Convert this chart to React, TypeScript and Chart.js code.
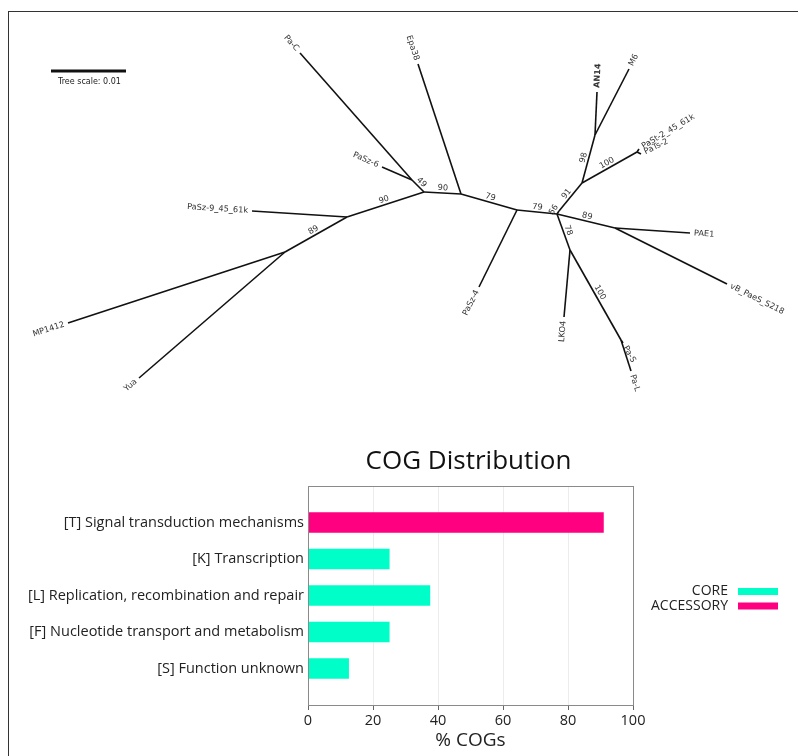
import React, { useEffect, useRef } from 'react';
import { Chart, registerables } from 'chart.js';

Chart.register(...registerables);

// ---------------- Phylogenetic tree (unrooted layout coordinates) ----------------
const treeNodeNames = [
  'n0', 'n1', 'n2', 'n3', 'n4', 'n5', 'n6', 'n6b', 'n7', 'n8', 'n9', 'n10', 'n11', 'n12',
  'Pa-C', 'PaSz-6', 'PaSz-9_45_61k', 'MP1412', 'Yua', 'Epa38', 'PaSz-4', 'AN14', 'M6',
  'PaSt-2_45_61k', 'PaTs-2', 'PAE1', 'vB_PaeS_S218', 'LKO4', 'Pa-S', 'Pa-L',
];
const treeNodeParents = [
  -1, 0, 0, 0, 2, 3, 5, 6, 7, 6, 6, 8, 8, 10,
  1, 1, 2, 4, 4, 3, 5, 11, 11,
  12, 12, 9, 9, 10, 13, 13,
];
const treeNodeX = [
  424, 412, 347, 461, 285, 517, 557, 559, 582, 615, 570, 595, 637, 621,
  300, 382, 252, 68, 139, 418, 479, 597, 629,
  639, 641, 690, 727, 564, 623, 631,
];
const treeNodeY = [
  192, 180, 217, 194, 252, 210, 214, 211, 183, 228, 250, 135, 152, 340,
  53, 167, 211, 323, 378, 64, 287, 92, 69,
  149, 154, 233, 284, 317, 343, 371,
];
const treeNodeSupport: (number | null)[] = [
  null, 49, 90, 90, 89, 79, 79, 56, 91, 89, 78, 98, 100, 100,
  null, null, null, null, null, null, null, null, null,
  null, null, null, null, null, null, null,
];
const treeHighlighted = ['AN14'];
const treeScaleValue = 0.01;
const treeScaleLength = 75; // layout units for 0.01 substitutions/site
const treeScaleOrigin = { x: 51, y: 71 };

// ---------------- COG distribution ----------------
const cogCategories = [
  '',
  '[T] Signal transduction mechanisms',
  '[K] Transcription',
  '[L] Replication, recombination and repair',
  '[F] Nucleotide transport and metabolism',
  '[S] Function unknown',
  '',
];
const coreValues: (number | null)[] = [null, null, 25, 37.5, 25, 12.5, null];
const accessoryValues: (number | null)[] = [null, 90.9, null, null, null, null, null];
const seriesNames = ['CORE', 'ACCESSORY'];
const seriesColors = ['#00ffc8', '#ff0080'];
const xTickStep = 20;
const xMin = 0;
const xMax = 100;
const chartTitle = 'COG Distribution';
const xAxisTitle = '% COGs';

const TREE_FONT = '"DejaVu Sans", sans-serif';
const UI_FONT = '"Open Sans", sans-serif';

const treeLabelPlugin = {
  id: 'treeLabels',
  afterDatasetsDraw(chart: any) {
    const ctx = chart.ctx as CanvasRenderingContext2D;
    const xs = chart.scales.x;
    const ys = chart.scales.y;
    const px = (i: number) => xs.getPixelForValue(treeNodeX[i]);
    const py = (i: number) => ys.getPixelForValue(treeNodeY[i]);
    const hasChild = treeNodeNames.map((_, i) => treeNodeParents.includes(i));
    ctx.save();
    ctx.fillStyle = '#333';
    ctx.textBaseline = 'middle';
    // leaf labels
    treeNodeNames.forEach((name, i) => {
      if (hasChild[i]) return;
      let a = treeNodeParents[i];
      while (a >= 0 && Math.hypot(px(i) - px(a), py(i) - py(a)) < 20 && treeNodeParents[a] >= 0) {
        a = treeNodeParents[a];
      }
      const ang = Math.atan2(py(i) - py(a), px(i) - px(a));
      const flip = Math.cos(ang) < 0;
      const ax = px(i) + 4 * Math.cos(ang);
      const ay = py(i) + 4 * Math.sin(ang);
      ctx.save();
      ctx.translate(ax, ay);
      ctx.rotate(flip ? ang + Math.PI : ang);
      ctx.textAlign = flip ? 'right' : 'left';
      ctx.font = (treeHighlighted.includes(name) ? 'bold ' : '') + '8.2px ' + TREE_FONT;
      ctx.fillText(name, 0, 0);
      ctx.restore();
    });
    // support values
    treeNodeSupport.forEach((s, i) => {
      if (s === null) return;
      const p = treeNodeParents[i];
      const ang = Math.atan2(py(i) - py(p), px(i) - px(p));
      const r = Math.cos(ang) < 0 ? ang + Math.PI : ang;
      const mx = (px(i) + px(p)) / 2 + 5 * Math.sin(r);
      const my = (py(i) + py(p)) / 2 - 5 * Math.cos(r);
      ctx.save();
      ctx.translate(mx, my);
      ctx.rotate(r);
      ctx.textAlign = 'center';
      ctx.font = '8.2px ' + TREE_FONT;
      ctx.fillText(String(s), 0, 0);
      ctx.restore();
    });
    // tree scale label
    ctx.font = '8px ' + TREE_FONT;
    ctx.textAlign = 'left';
    ctx.fillStyle = '#222';
    ctx.fillText(
      'Tree scale: ' + treeScaleValue,
      xs.getPixelForValue(treeScaleOrigin.x) + 7,
      ys.getPixelForValue(treeScaleOrigin.y) + 11,
    );
    ctx.restore();
  },
};

const barDecorPlugin = {
  id: 'barDecor',
  afterDraw(chart: any) {
    const ctx = chart.ctx as CanvasRenderingContext2D;
    const ca = chart.chartArea;
    ctx.save();
    // frame
    ctx.strokeStyle = '#8a8a8a';
    ctx.lineWidth = 1;
    ctx.strokeRect(Math.round(ca.left) + 0.5, Math.round(ca.top) + 0.5, Math.round(ca.right - ca.left), Math.round(ca.bottom - ca.top));
    // title
    ctx.fillStyle = '#111';
    ctx.font = '26px ' + UI_FONT;
    ctx.textAlign = 'center';
    ctx.textBaseline = 'middle';
    ctx.fillText(chartTitle, (ca.left + ca.right) / 2 - 2, ca.top - 24);
    // legend
    ctx.font = '14px ' + UI_FONT;
    ctx.textAlign = 'right';
    chart.data.datasets.forEach((d: any, i: number) => {
      const y = ca.top + 105.5 + i * 14.5;
      ctx.fillStyle = '#222';
      ctx.fillText(d.label, ca.right + 95, y);
      ctx.fillStyle = d.backgroundColor;
      ctx.fillRect(ca.right + 105, y - 3.5, 40, 7);
    });
    ctx.restore();
  },
};

export default function App() {
  const treeRef = useRef<HTMLCanvasElement>(null);
  const barRef = useRef<HTMLCanvasElement>(null);

  useEffect(() => {
    const edgeSets = treeNodeParents
      .map((p, i) => (p < 0 ? null : [
        { x: treeNodeX[p], y: treeNodeY[p] },
        { x: treeNodeX[i], y: treeNodeY[i] },
      ]))
      .filter((e) => e !== null) as { x: number; y: number }[][];

    const treeChart = new Chart(treeRef.current as HTMLCanvasElement, {
      type: 'scatter',
      data: {
        datasets: [
          ...edgeSets.map((d) => ({
            data: d,
            showLine: true,
            borderColor: '#111',
            borderWidth: 1.6,
            pointRadius: 0,
            fill: false,
          })),
          {
            data: [
              { x: treeScaleOrigin.x, y: treeScaleOrigin.y },
              { x: treeScaleOrigin.x + treeScaleLength, y: treeScaleOrigin.y },
            ],
            showLine: true,
            borderColor: '#111',
            borderWidth: 3,
            pointRadius: 0,
            fill: false,
          },
        ],
      },
      options: {
        responsive: false,
        animation: false,
        events: [],
        layout: { padding: 0 },
        plugins: { legend: { display: false }, tooltip: { enabled: false }, title: { display: false } },
        scales: {
          x: { type: 'linear', display: false, min: 0, max: 798 },
          y: { type: 'linear', display: false, min: 0, max: 430, reverse: true },
        },
      },
      plugins: [treeLabelPlugin],
    } as any);

    const barChart = new Chart(barRef.current as HTMLCanvasElement, {
      type: 'bar',
      data: {
        labels: cogCategories,
        datasets: [
          { label: seriesNames[0], data: coreValues, backgroundColor: seriesColors[0], barThickness: 20 },
          { label: seriesNames[1], data: accessoryValues, backgroundColor: seriesColors[1], barThickness: 20 },
        ],
      },
      options: {
        indexAxis: 'y',
        responsive: false,
        animation: false,
        events: [],
        layout: { padding: { top: 56, right: 165, left: 0, bottom: 0 } },
        plugins: { legend: { display: false }, tooltip: { enabled: false }, title: { display: false } },
        scales: {
          x: {
            type: 'linear',
            min: xMin,
            max: xMax,
            stacked: true,
            ticks: { stepSize: xTickStep, color: '#222', font: { family: UI_FONT, size: 14.5 }, padding: 2 },
            grid: { color: '#ececec', tickColor: '#666', tickLength: 5 },
            border: { color: '#8a8a8a' },
            title: {
              display: true,
              text: xAxisTitle,
              color: '#222',
              font: { family: UI_FONT, size: 19 },
              padding: { top: 0, bottom: 4 },
            },
            afterFit: (s: any) => { s.height = 51; },
          },
          y: {
            type: 'category',
            stacked: true,
            offset: false,
            grid: { display: true, drawOnChartArea: false, drawTicks: false },
            border: { color: '#8a8a8a' },
            ticks: { color: '#222', font: { family: UI_FONT, size: 14.5 }, padding: 4, autoSkip: false },
            afterFit: (s: any) => { s.width = 308; },
          },
        },
      },
      plugins: [barDecorPlugin],
    } as any);

    return () => {
      treeChart.destroy();
      barChart.destroy();
    };
  }, []);

  return (
    <div style={{ position: 'fixed', left: 0, top: 0, width: 798, height: 756, overflow: 'hidden', background: '#fff' }}>
      <div style={{ position: 'absolute', left: 8, top: 11, right: -2, bottom: -2, borderLeft: '1px solid #333', borderTop: '1px solid #333' }} />
      <canvas ref={treeRef} width={798} height={430} style={{ position: 'absolute', left: 0, top: 0 }} />
      <canvas ref={barRef} width={798} height={326} style={{ position: 'absolute', left: 0, top: 430 }} />
    </div>
  );
}
